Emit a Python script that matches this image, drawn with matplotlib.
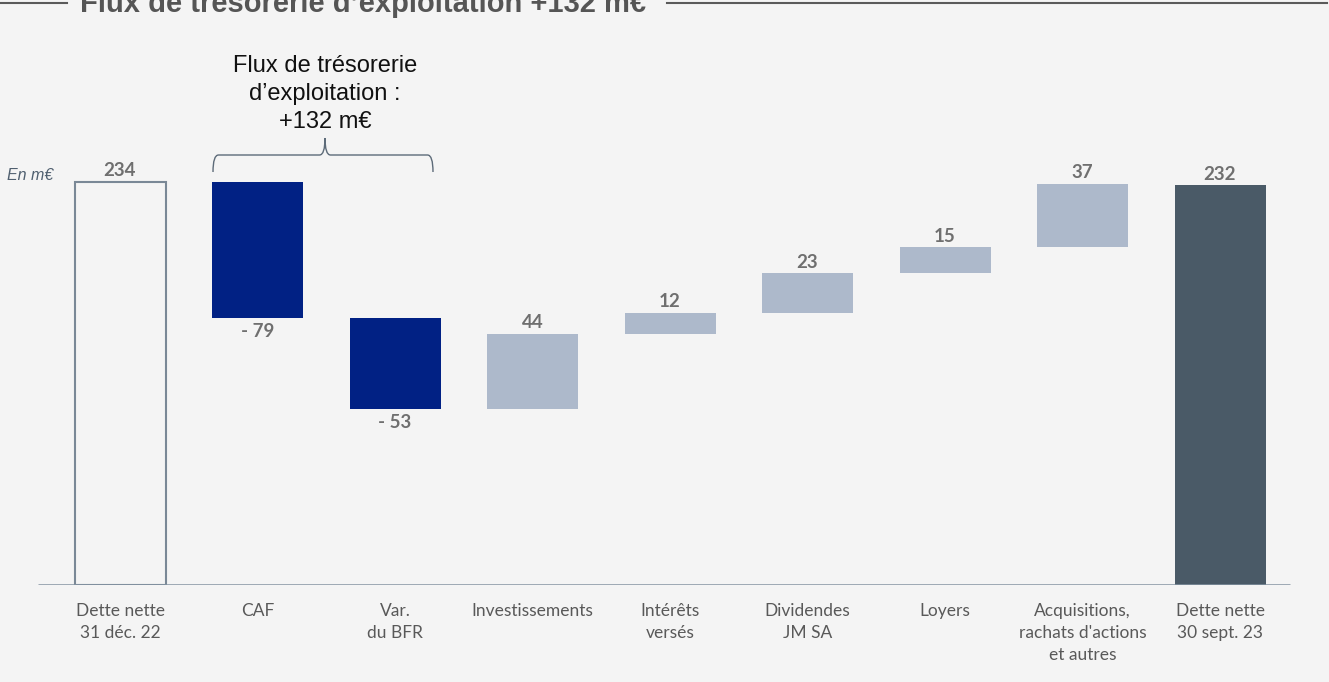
import matplotlib.pyplot as plt
import numpy as np
from matplotlib.path import Path
from matplotlib.patches import PathPatch

categories = ["Dette nette\n31 déc. 22", "CAF", "Var.\ndu BFR", "Investissements",
              "Intérêts\nversés", "Dividendes\nJM SA", "Loyers",
              "Acquisitions,\nrachats d'actions\net autres", "Dette nette\n30 sept. 23"]
start_debt = 234
deltas = [-79, -53, 44, 12, 23, 15, 37]
end_debt = 232
value_labels = ["234", "- 79", "- 53", "44", "12", "23", "15", "37", "232"]

bg = "#f4f4f4"
dark_blue = "#012184"
light_blue = "#adb9cb"
slate = "#4a5a67"
edge_grey = "#7a8896"
label_grey = "#6f6f6f"
cat_grey = "#595959"

fig = plt.figure(figsize=(13.29, 6.82), dpi=100, facecolor=bg)
ax = fig.add_axes([0, 97 / 682, 1, 585 / 682])
ax.set_facecolor(bg)

px_per_unit = 403 / 234
step = 137.5
ax.set_xlim(-120 / step, (1329 - 120) / step)
ax.set_ylim(0, 585 / px_per_unit)
for s in ax.spines.values():
    s.set_visible(False)
ax.set_xticks([])
ax.set_yticks([])

w = 91 / step
x = np.arange(len(categories))

# start bar (outlined)
ax.bar(x[0], start_debt, width=w, facecolor="none", edgecolor=edge_grey, linewidth=1.5)

# floating bars
level = start_debt
bottoms, heights = [], []
for d in deltas:
    new = level + d
    bottoms.append(min(level, new))
    heights.append(abs(d))
    level = new
colors = [dark_blue if d < 0 else light_blue for d in deltas]
ax.bar(x[1:-1], heights, bottom=bottoms, width=w, color=colors, edgecolor="none")

# end bar
ax.bar(x[-1], end_debt, width=w, color=slate, edgecolor="none")

# baseline
ax.plot([-82 / step, (1290 - 120) / step], [0, 0], color="#8392a1", lw=1.8,
        solid_capstyle="butt")

# value labels
lab_font = dict(family=["Lato", "DejaVu Sans"], fontsize=13.5, fontweight="bold", color=label_grey)
ax.text(x[0], start_debt + 1.5, value_labels[0], ha="center", va="bottom", **lab_font)
for i, d in enumerate(deltas):
    if d < 0:
        ax.text(x[i + 1], bottoms[i] - 3, value_labels[i + 1], ha="center", va="top", **lab_font)
    else:
        ax.text(x[i + 1], bottoms[i] + heights[i] + 1.5, value_labels[i + 1],
                ha="center", va="bottom", **lab_font)
ax.text(x[-1], end_debt + 1.5, value_labels[-1], ha="center", va="bottom", **lab_font)

# category labels
for xi, c in zip(x, categories):
    ax.text(xi, -10.5, c, ha="center", va="top", fontsize=12.5, color=cat_grey,
            family=["Lato", "DejaVu Sans"], linespacing=1.45)

# unit label
fig.text(7 / 1329, 1 - 175 / 682, "En m€", ha="left", va="center", fontsize=11.5,
         style="italic", color="#4f5f6f", family=["Liberation Sans", "DejaVu Sans"])

# brace
def ypx(p):
    return (585 - p) / px_per_unit

def xpx(p):
    return (p - 120) / step

xl, xr, xm = xpx(213), xpx(433), xpx(325)
yb, yh, yt = ypx(172), ypx(155), ypx(138)
r = 0.04
verts = [(xl, yb), (xl, yh), (xl + r, yh),
         (xm - r, yh), (xm, yh), (xm, yt),
         (xm, yh), (xm + r, yh),
         (xr - r, yh), (xr, yh), (xr, yb)]
codes = [Path.MOVETO, Path.CURVE3, Path.CURVE3,
         Path.LINETO, Path.CURVE3, Path.CURVE3,
         Path.CURVE3, Path.CURVE3,
         Path.LINETO, Path.CURVE3, Path.CURVE3]
ax.add_patch(PathPatch(Path(verts, codes), facecolor="none", edgecolor="#5d6b79", lw=1.0))

ax.text(xm, ypx(128), "Flux de trésorerie\nd\u2019exploitation :\n+132 m€", ha="center",
        va="baseline", fontsize=17, color="#111111", linespacing=1.36,
        family=["Liberation Sans", "DejaVu Sans"])

# title with side rules (cut by the top edge, as in the source)
fig.text(363 / 1329, 1 - 12.5 / 682, "Flux de trésorerie d\u2019exploitation +132 m€",
         ha="center", va="baseline", fontsize=21, fontweight="bold", color="#555555",
         family=["Liberation Sans", "DejaVu Sans"])
fig.add_artist(plt.Line2D([0, 67 / 1329], [1 - 3 / 682] * 2, color="#5a5a5a", lw=1.5))
fig.add_artist(plt.Line2D([667 / 1329, 1 - 2 / 1329], [1 - 3 / 682] * 2, color="#5a5a5a", lw=1.5))

fig.savefig("out.png", dpi=100, facecolor=bg)
